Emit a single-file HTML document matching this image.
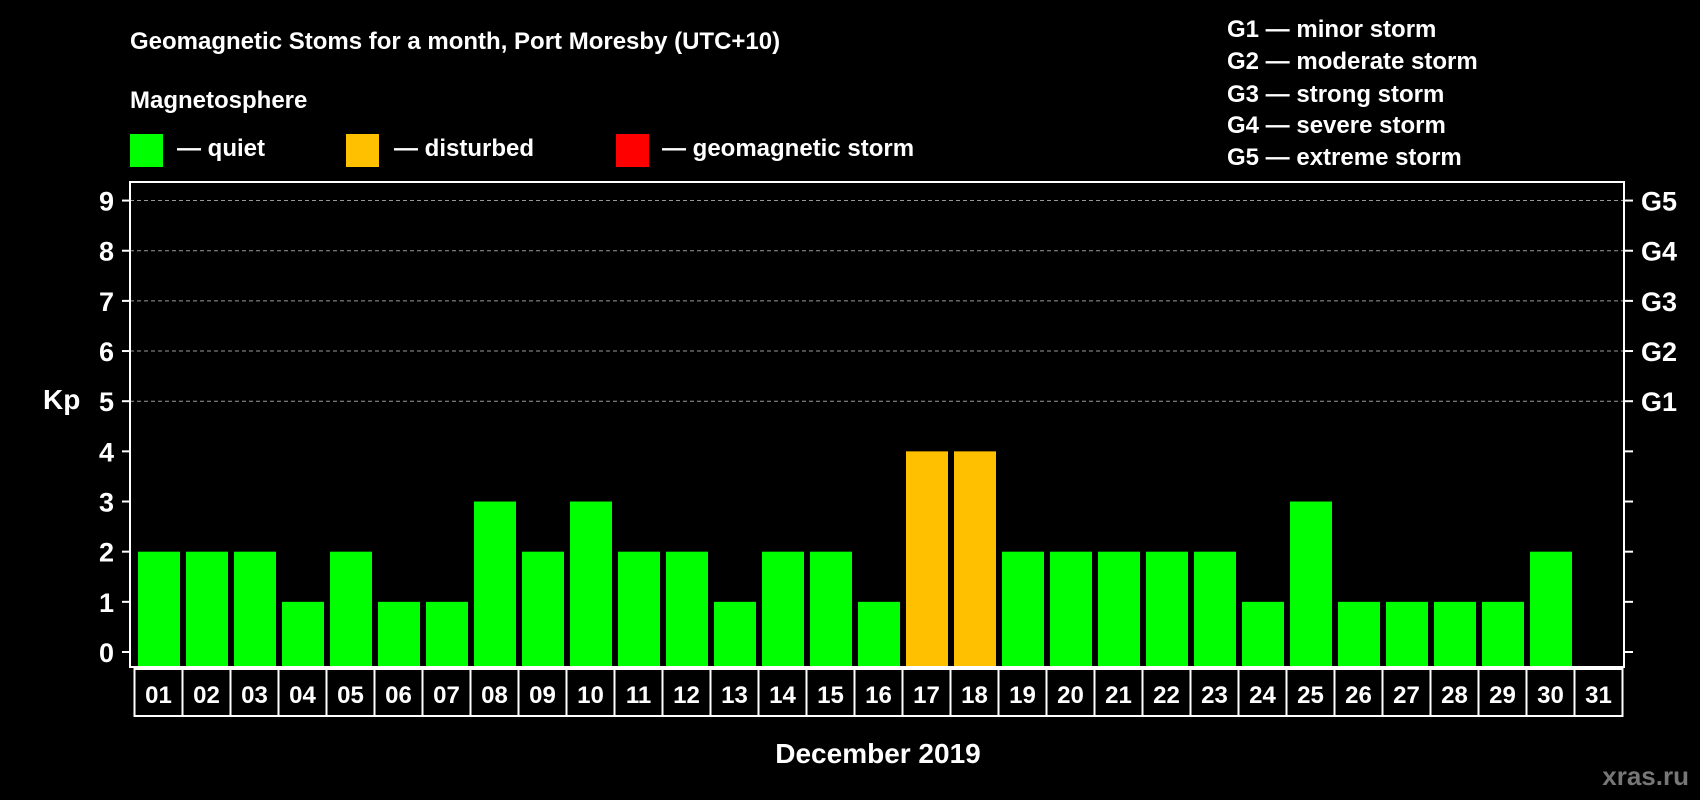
<!DOCTYPE html>
<html><head><meta charset="utf-8"><style>
html,body{margin:0;padding:0;background:#000;}
svg{display:block;font-family:"Liberation Sans",Arial,sans-serif;font-weight:bold;}
</style></head><body>
<svg id="chart" width="1700" height="800" viewBox="0 0 1700 800">
<text x="130" y="49" fill="#fff" font-size="24">Geomagnetic Stoms for a month, Port Moresby (UTC+10)</text>
<text x="130" y="108" fill="#fff" font-size="24">Magnetosphere</text>
<g><rect x="130" y="134" width="33" height="33" fill="#00ff00"/><text x="177" y="156" fill="#fff" font-size="24">— quiet</text></g>
<g><rect x="346" y="134" width="33" height="33" fill="#ffc000"/><text x="394" y="156" fill="#fff" font-size="24">— disturbed</text></g>
<g><rect x="616" y="134" width="33" height="33" fill="#ff0000"/><text x="662" y="156" fill="#fff" font-size="24">— geomagnetic storm</text></g>
<g fill="#fff" font-size="24">
<text x="1227" y="37">G1 — minor storm</text>
<text x="1227" y="69">G2 — moderate storm</text>
<text x="1227" y="102">G3 — strong storm</text>
<text x="1227" y="133">G4 — severe storm</text>
<text x="1227" y="165">G5 — extreme storm</text>
</g>
<text x="43" y="409" fill="#fff" font-size="28">Kp</text>
<text x="878" y="763" fill="#fff" font-size="28" text-anchor="middle">December 2019</text>
<text x="1689" y="785" fill="#777" font-size="26" text-anchor="end">xras.ru</text>
<g id="grid"></g><g id="bars"></g><g id="axes"></g>
</svg>
<script>
const days = ["01","02","03","04","05","06","07","08","09","10","11","12","13","14","15","16","17","18","19","20","21","22","23","24","25","26","27","28","29","30","31"];
const kpValues = [2,2,2,1,2,1,1,3,2,3,2,2,1,2,2,1,4,4,2,2,2,2,2,1,3,1,1,1,1,2,null];
const yTicks = [0,1,2,3,4,5,6,7,8,9];
const gLabels = ["G1","G2","G3","G4","G5"];
const NS="http://www.w3.org/2000/svg";
const L=130,R=1624,T=182,B=667,cellL=134.5,cellW=48;
const y=v=>652-v*50.16;
const x=i=>cellL+i*cellW;
function mk(t,a,p){const e=document.createElementNS(NS,t);for(const k in a)e.setAttribute(k,a[k]);p.appendChild(e);return e;}
const grid=document.getElementById('grid'),bars=document.getElementById('bars'),axes=document.getElementById('axes');
yTicks.forEach(v=>{
 if(v>=5){const g=mk('line',{x1:L,x2:R,y1:y(v),y2:y(v),stroke:'#999','stroke-dasharray':'4 3','stroke-width':1},grid);
 
 }
 mk('line',{x1:122,x2:L,y1:y(v),y2:y(v),stroke:'#fff','stroke-width':2},axes);
 mk('line',{x1:R,x2:R+9,y1:y(v),y2:y(v),stroke:'#fff','stroke-width':2},axes);
 const t=mk('text',{x:114,y:y(v)+10,fill:'#fff','font-size':27,'text-anchor':'end'},axes);t.textContent=v;
 
 
});
gLabels.forEach((g,i)=>{const t=mk('text',{x:1641,y:y(5+i)+10,fill:'#fff','font-size':27},axes);t.textContent=g;
 
 });
kpValues.forEach((v,i)=>{
 if(v===null)return;
 const r=mk('rect',{x:x(i)+3.5,width:42,y:y(v),height:B-y(v),fill:v>=5?'#ff0000':(v>=4?'#ffc000':'#00ff00')},bars);
 
 
});
mk('rect',{x:L,y:T,width:R-L,height:B-T,fill:'none',stroke:'#fff','stroke-width':2},axes);
days.forEach((d,i)=>{
 mk('rect',{x:x(i),y:B+2,width:cellW,height:47,fill:'none',stroke:'#fff','stroke-width':2},axes);
 const t=mk('text',{x:x(i)+cellW/2,y:703,fill:'#fff','font-size':24,'text-anchor':'middle'},axes);t.textContent=d;
 
 
});
</script>
</body></html>
